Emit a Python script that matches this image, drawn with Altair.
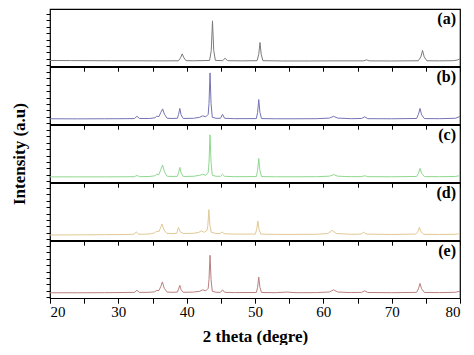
import altair as alt
import pandas as pd

# ---- data (2theta in degrees, intensity above baseline, a.u.) ----
a_points = [(20,0.8),(23,0.7),(26,0.6),(29,0.5),(32,0.5),(35,0.4),(37,0.4),(38.8,0.5),(39.1,3.5),(39.35,7.5),(39.6,3.5),(39.9,0.6),(41,0.5),(43.35,0.8),(43.6,11),(43.78,41),(43.96,11),(44.2,0.9),(45.25,0.6),(45.62,3),(46.0,0.6),(48,0.4),(50.3,0.6),(50.55,7),(50.73,19),(50.91,7),(51.15,0.6),(54,0.3),(58,0.3),(62,0.4),(65.9,0.4),(66.3,1.5),(66.7,0.4),(70,0.3),(73.9,0.5),(74.28,4.5),(74.52,11),(74.76,4.5),(75.15,0.5),(77,0.4),(79,0.6),(79.6,1.2),(80,2.5)]

b_points = [(20,0.5),(24,0.4),(28,0.5),(31,0.6),(32.35,0.7),(32.72,3),(33.1,0.8),(34.6,0.8),(35.35,1.5),(35.6,3),(35.95,2.8),(36.22,7),(36.48,10.5),(36.75,5),(37.15,1),(38.0,0.8),(38.65,1),(38.82,5),(39.0,11),(39.18,4.5),(39.5,0.8),(41.0,1),(41.9,2),(42.35,3.5),(42.8,2.5),(43.15,5),(43.27,16),(43.42,47),(43.57,16),(43.75,2),(44.3,1),(44.95,1),(45.25,5),(45.55,1),(47,0.6),(50.2,0.7),(50.38,7),(50.55,20),(50.72,7),(50.95,0.7),(53,0.5),(56,0.5),(59,0.6),(60.9,1.2),(61.5,3),(62.1,1.2),(64,0.6),(65.6,0.8),(66.05,2.5),(66.5,0.6),(70,0.5),(73.65,0.8),(73.92,5),(74.15,11),(74.38,4.5),(74.8,0.7),(77,0.6),(79.3,1),(79.7,2),(80,3)]

c_points = [(20,0.4),(24,0.4),(28,0.4),(31,0.5),(32.35,0.6),(32.72,1.8),(33.1,0.6),(34.6,0.8),(35.35,1.5),(35.6,3),(35.95,2.8),(36.22,8),(36.48,12.5),(36.75,5.5),(37.15,1),(38.0,0.8),(38.65,1),(38.82,5),(39.0,10),(39.18,4.5),(39.5,0.8),(41.0,1),(41.9,2),(42.35,3),(42.8,2),(43.15,5),(43.27,15),(43.42,43),(43.57,15),(43.75,2),(44.3,1),(44.95,1),(45.25,3),(45.55,1),(47,0.6),(50.2,0.7),(50.38,7),(50.55,19),(50.72,7),(50.95,0.7),(53,0.5),(56,0.5),(59,0.6),(60.9,1.1),(61.5,2.7),(62.1,1.1),(64,0.6),(65.6,0.7),(66.05,1.5),(66.5,0.6),(70,0.5),(73.65,0.8),(73.92,4),(74.15,9),(74.38,4),(74.8,0.7),(77,0.6),(79.3,0.8),(79.7,1.3),(80,1.5)]

d_points = [(20,0.3),(24,0.4),(28,0.6),(31,0.8),(32.25,1),(32.62,3.3),(33.0,1),(34.6,1.3),(35.3,2.5),(35.6,4),(35.95,3.8),(36.17,7.5),(36.4,11.5),(36.68,5.5),(37.1,2),(38.0,1.6),(38.55,2),(38.8,8),(39.05,3.5),(39.5,1.8),(41.0,2),(41.8,3),(42.15,4.5),(42.6,3),(42.97,5),(43.1,10),(43.25,26),(43.4,10),(43.6,3),(44.3,1.8),(44.9,1.8),(45.2,3.3),(45.5,1.6),(47,1.2),(50.05,1.2),(50.25,6),(50.42,14.5),(50.6,5.5),(50.85,1.2),(53,0.9),(56,0.9),(59,1),(60.7,1.8),(61.3,5),(61.9,1.8),(64,1),(65.5,1.2),(65.9,3),(66.3,1.2),(70,0.8),(73.5,1.2),(73.82,3.5),(74.05,8),(74.3,3.5),(74.7,1),(77,0.8),(79.3,1),(79.7,1.5),(80,1.6)]

e_points = [(20,0.5),(24,0.5),(28,0.6),(31,0.8),(32.35,0.9),(32.72,3),(33.1,0.9),(34.6,1),(35.3,1.5),(35.55,2.7),(35.95,2.8),(36.22,7),(36.45,11.5),(36.72,5),(37.15,1.2),(38.0,1),(38.65,1.2),(38.82,4.5),(39.0,8),(39.18,3.5),(39.5,1),(41.0,1.2),(41.9,2),(42.35,3.5),(42.8,2.5),(43.15,5),(43.27,14),(43.42,38.5),(43.57,14),(43.75,2),(44.3,1),(44.95,1),(45.25,3.5),(45.55,1),(47,0.7),(50.2,0.8),(50.38,6),(50.55,16.5),(50.72,6),(50.95,0.8),(53,0.6),(54.7,1.2),(56,0.6),(59,0.7),(60.9,1.3),(61.5,3.5),(62.1,1.3),(64,0.7),(65.6,0.9),(66.05,2.5),(66.5,0.8),(70,0.6),(73.65,0.9),(73.92,4.5),(74.15,10),(74.38,4.5),(74.8,0.8),(77,0.7),(79.3,1),(79.7,1.6),(80,2)]

labels = ["(a)", "(b)", "(c)", "(d)", "(e)"]
colors = ["#7c7c7c", "#7474b4", "#8fd88f", "#e2c995", "#b98080"]
x_ticks = [20, 25, 30, 35, 40, 45, 50, 55, 60, 65, 70, 75, 80]
y_ticks = [-4, 2.5, 9, 15.5, 22, 28.5, 35, 41.5, 48]

FONT = "Liberation Serif"
W = 410
H = 57.2

panels = []
all_points = [a_points, b_points, c_points, d_points, e_points]
for i, (pts, lab, col) in enumerate(zip(all_points, labels, colors)):
    df = pd.DataFrame(pts, columns=["theta", "intensity"])
    last = i == len(all_points) - 1
    mid = i == 2

    xkw = dict(values=x_ticks, tickSize=5, tickColor="black", domain=False,
               grid=False, labels=last)
    if last:
        xkw.update(labelExpr="datum.value % 10 == 0 ? datum.label : ''",
                   labelFontSize=15, labelPadding=1,
                   labelColor="black", title="2 theta (degre)",
                   titleFontSize=17, titleFontWeight="bold", titlePadding=9,
                   titleColor="black")
    else:
        xkw.update(title=None)

    ykw = dict(values=y_ticks, tickSize=4, tickColor="black", domain=False,
               grid=False, labels=False)
    if mid:
        ykw.update(title="Intensity (a.u)", titleFontSize=17,
                   titleFontWeight="bold", titlePadding=17, titleColor="black")
    else:
        ykw.update(title=None)

    line = alt.Chart(df).mark_line(color=col, strokeWidth=1).encode(
        x=alt.X("theta:Q", scale=alt.Scale(domain=[20, 80], nice=False),
                axis=alt.Axis(**xkw)),
        y=alt.Y("intensity:Q", scale=alt.Scale(domain=[-5, 53], nice=False, zero=False),
                axis=alt.Axis(**ykw)),
    )
    txt = alt.Chart(pd.DataFrame({"label": [lab]})).mark_text(
        fontSize=16, fontWeight="bold", align="right",
        baseline="middle", color="black"
    ).encode(text="label:N", x=alt.value(W - 4), y=alt.value(10))
    panels.append(alt.layer(line, txt).properties(width=W, height=H))

chart = alt.vconcat(*panels, spacing=0, bounds="flush").properties(
    padding={"left": 1, "top": 0, "right": 0, "bottom": 0}
).configure(font=FONT, background="white").configure_view(
    stroke="black", strokeWidth=1.2
).configure_axis(labelFont=FONT, titleFont=FONT).configure_text(font=FONT)

chart.save("out.html", embed_options={"renderer": "svg", "actions": False})
